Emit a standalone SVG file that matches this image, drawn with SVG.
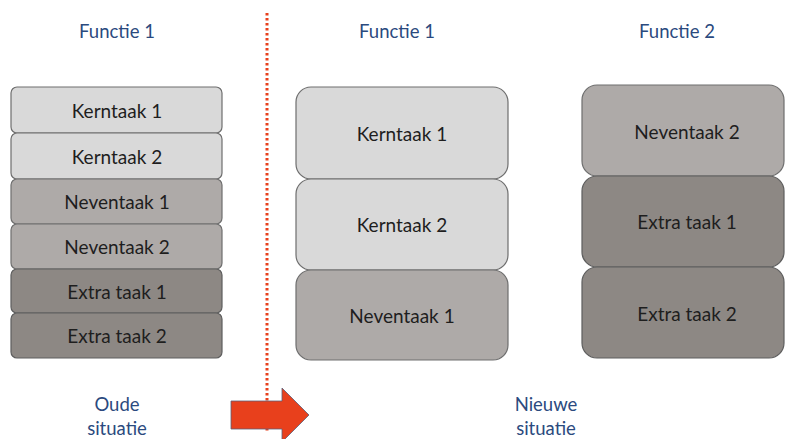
<svg xmlns="http://www.w3.org/2000/svg" width="785" height="439" viewBox="0 0 785 439">
<style>
.t{font-family:Lato,"Open Sans","Liberation Sans",sans-serif;font-size:19px;fill:#1e1e1e;text-anchor:middle;dominant-baseline:central}
.h{font-family:Lato,"Open Sans","Liberation Sans",sans-serif;font-size:18.5px;fill:#2b4a7e;text-anchor:middle;dominant-baseline:central}
.k{fill:#d9d9d9;stroke:#6e6e6e;stroke-width:1.2}
.n{fill:#aeaaa8;stroke:#6e6e6e;stroke-width:1.2}
.e{fill:#8d8884;stroke:#5e5e5e;stroke-width:1.2}
</style>
<rect width="785" height="439" fill="#fff"/>
<g id="titles">
<text class="h" x="117" y="31">Functie 1</text>
<text class="h" x="397" y="31">Functie 1</text>
<text class="h" x="677" y="31">Functie 2</text>
<text class="h" x="117" y="404">Oude</text>
<text class="h" x="117" y="428">situatie</text>
<text class="h" x="546" y="404">Nieuwe</text>
<text class="h" x="546" y="428">situatie</text>
</g>
<g id="connectors">
<line x1="267" y1="13" x2="267" y2="432" stroke="#e8401c" stroke-width="3" stroke-dasharray="2.5 2.5"/>
<polygon points="231,401 282,401 282,388 309,415 282,442 282,429 231,429" fill="#e8401c" stroke="#5a5f7a" stroke-width="0.8"/>
</g>
<g id="old-kerntaak1"><rect class="k" x="11" y="87" width="211" height="46" rx="6"/><text class="t" x="117" y="110">Kerntaak 1</text></g>
<g id="old-kerntaak2"><rect class="k" x="11" y="133" width="211" height="46" rx="6"/><text class="t" x="117" y="156">Kerntaak 2</text></g>
<g id="old-neventaak1"><rect class="n" x="11" y="179" width="211" height="45" rx="6"/><text class="t" x="117" y="201">Neventaak 1</text></g>
<g id="old-neventaak2"><rect class="n" x="11" y="224" width="211" height="45" rx="6"/><text class="t" x="117" y="246">Neventaak 2</text></g>
<g id="old-extra1"><rect class="e" x="11" y="269" width="211" height="44" rx="6"/><text class="t" x="117" y="291">Extra taak 1</text></g>
<g id="old-extra2"><rect class="e" x="11" y="313" width="211" height="45" rx="6"/><text class="t" x="117" y="335">Extra taak 2</text></g>
<g id="new1-kerntaak1"><rect class="k" x="296" y="87" width="212" height="92" rx="15"/><text class="t" x="402" y="133">Kerntaak 1</text></g>
<g id="new1-kerntaak2"><rect class="k" x="296" y="179" width="212" height="91" rx="15"/><text class="t" x="402" y="224">Kerntaak 2</text></g>
<g id="new1-neventaak1"><rect class="n" x="296" y="270" width="212" height="90" rx="15"/><text class="t" x="402" y="315">Neventaak 1</text></g>
<g id="new2-neventaak2"><rect class="n" x="582" y="85" width="202" height="91" rx="15"/><text class="t" x="687" y="131">Neventaak 2</text></g>
<g id="new2-extra1"><rect class="e" x="582" y="176" width="202" height="91" rx="15"/><text class="t" x="687" y="221">Extra taak 1</text></g>
<g id="new2-extra2"><rect class="e" x="582" y="267" width="202" height="91" rx="15"/><text class="t" x="687" y="313">Extra taak 2</text></g>
</svg>
